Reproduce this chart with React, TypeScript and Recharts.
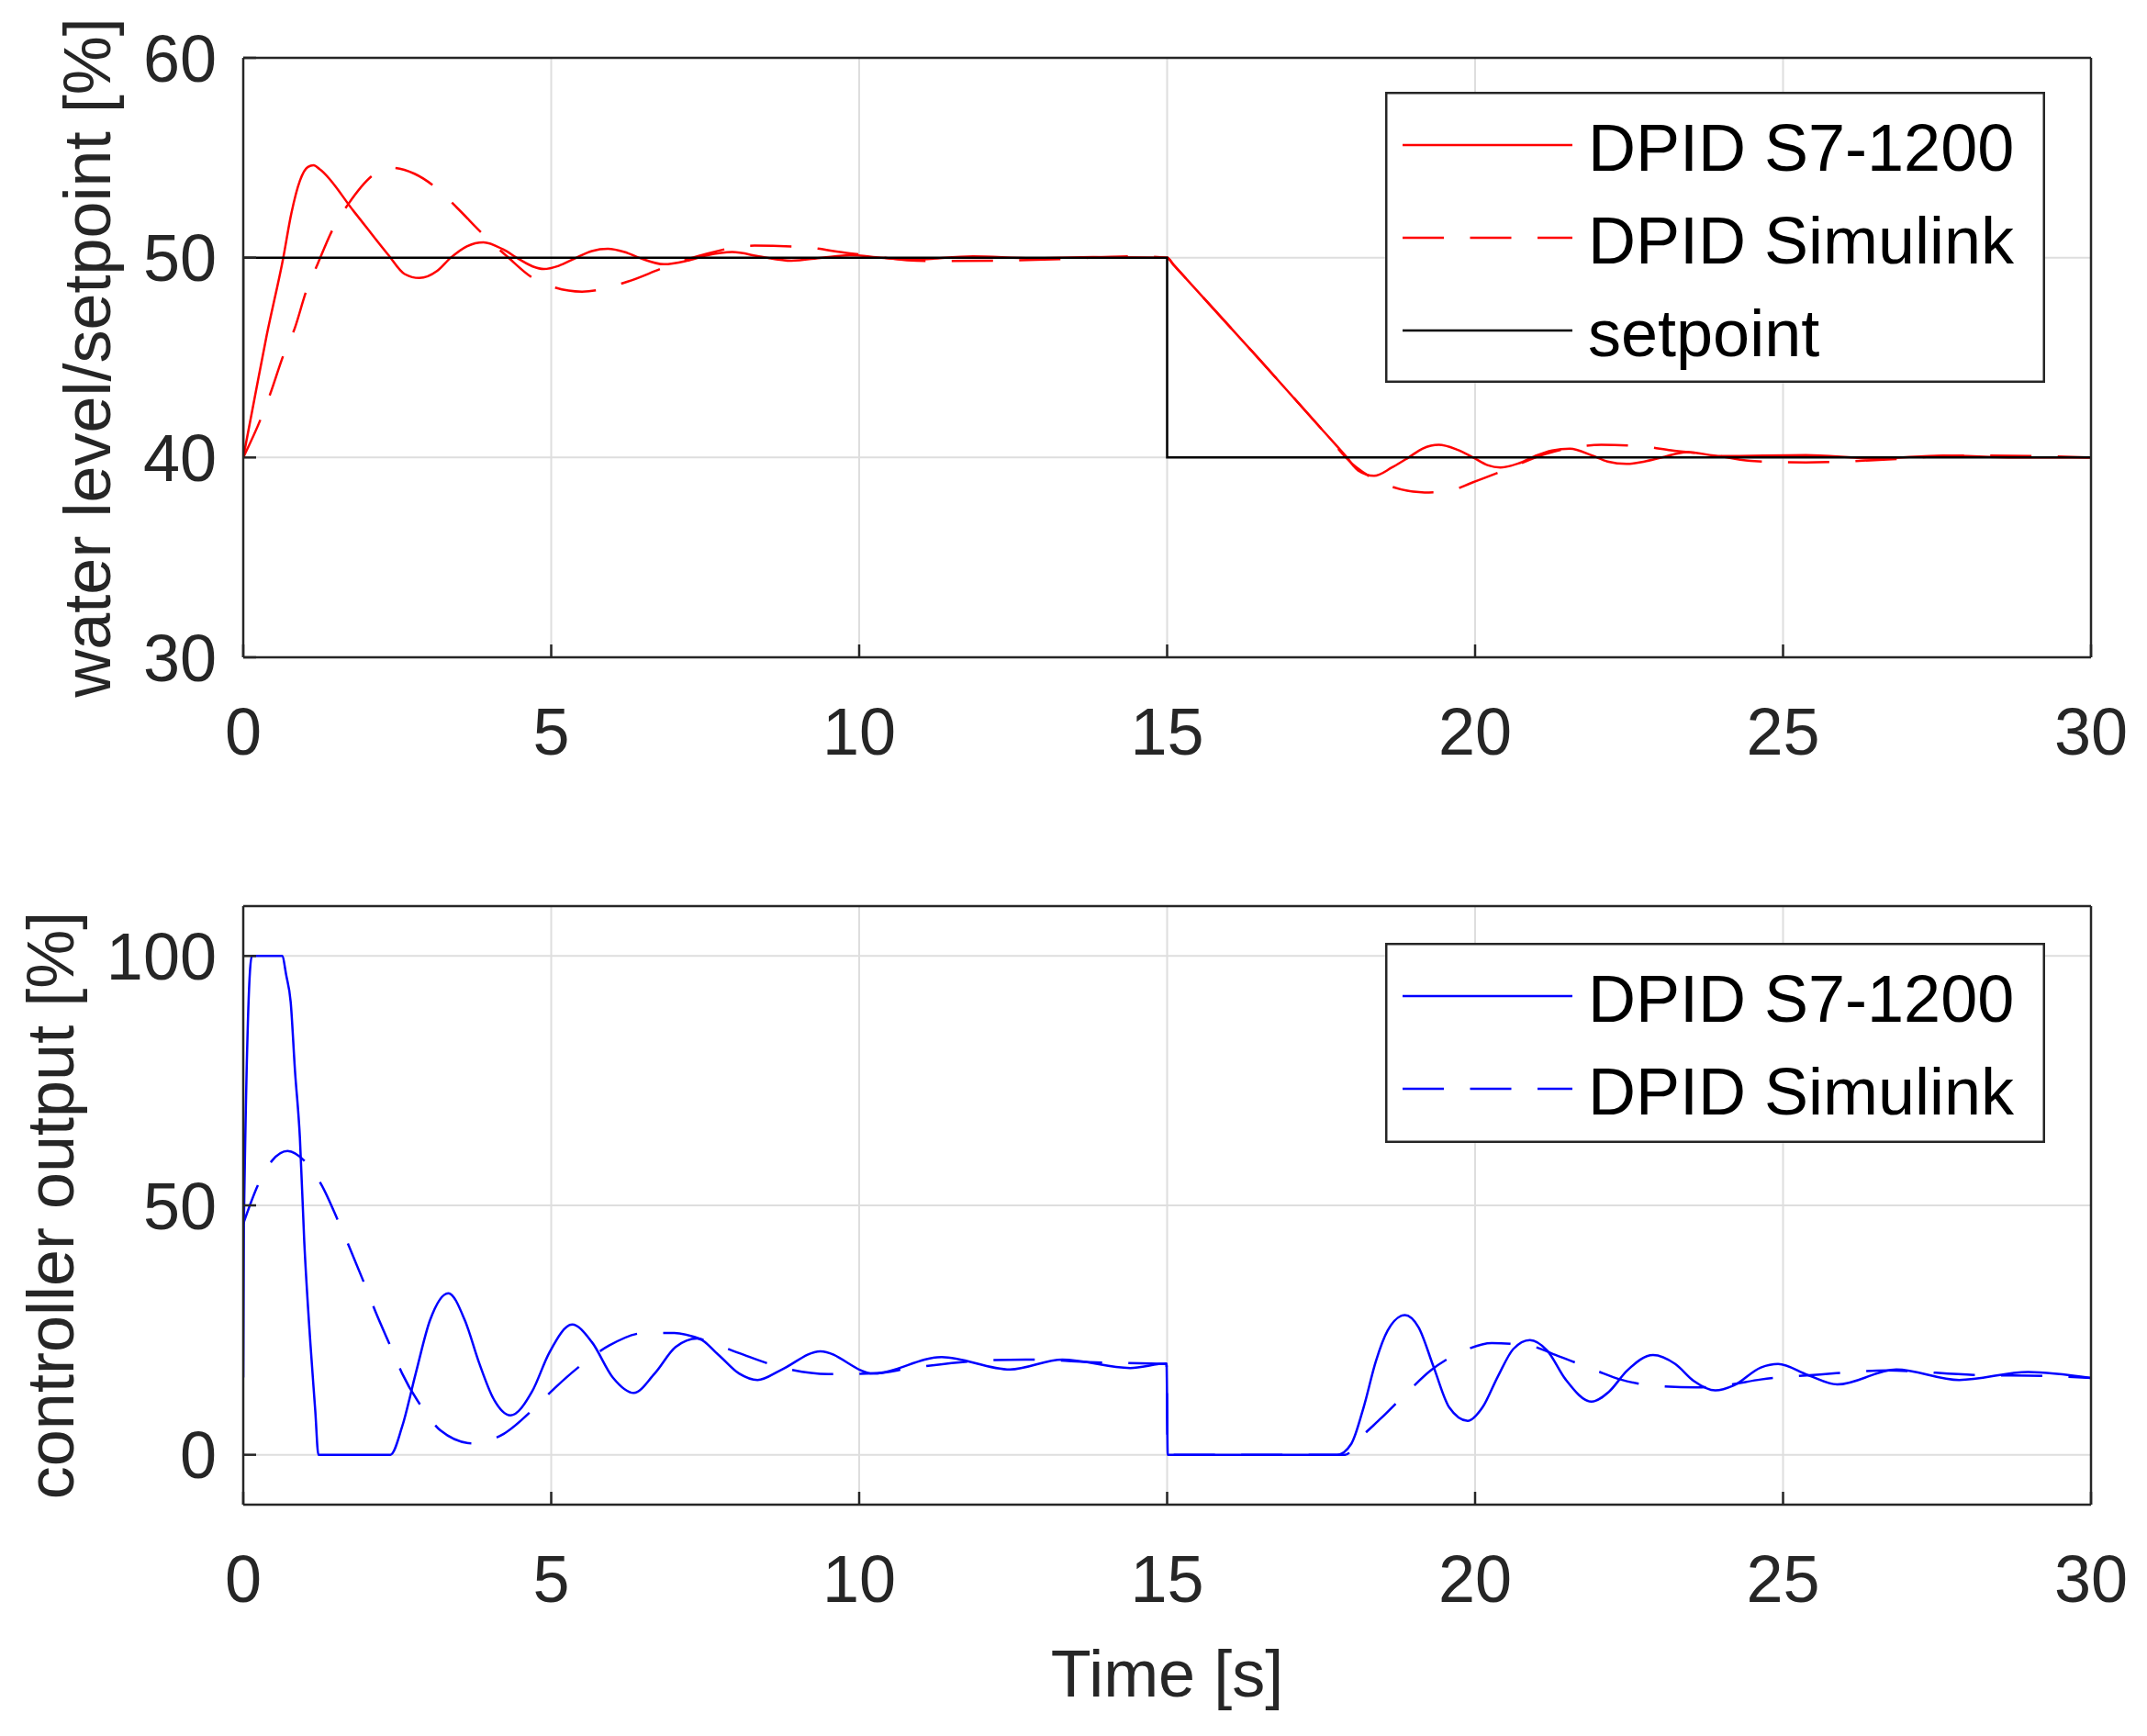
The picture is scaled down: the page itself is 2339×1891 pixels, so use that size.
import React from 'react';
import { LineChart, Line, XAxis, YAxis, CartesianGrid, Legend } from 'recharts';

// ---------- data ----------
const timeTicks = [0, 5, 10, 15, 20, 25, 30];
const levelTicks = [30, 40, 50, 60];
const outputTicks = [0, 50, 100];

// water level, DPID S7-1200 (solid red)
const levelS7: [number, number][] = [
  [0, 40], [0.18, 42.9], [0.38, 46.1], [0.65, 50], [0.78, 52.2], [0.92, 53.85], [1.05, 54.54], [1.14, 54.62],
  [1.24, 54.43], [1.8, 52.3], [2.35, 50.16], [2.62, 49.18], [2.86, 48.98], [3.15, 49.34], [3.37, 50.0],
  [3.63, 50.57], [3.9, 50.77], [4.22, 50.41], [4.48, 49.92], [4.7, 49.56], [4.88, 49.43], [5.12, 49.59],
  [5.39, 49.97], [5.66, 50.33], [5.92, 50.44], [6.19, 50.28], [6.45, 49.97], [6.83, 49.67], [7.2, 49.84],
  [7.52, 50.11], [7.94, 50.28], [8.4, 50.05], [8.9, 49.85], [9.4, 50.0], [9.85, 50.12], [10.35, 50.0],
  [10.85, 49.9], [11.85, 50.06], [12.8, 49.97], [13.8, 50.03], [15, 50.0], [15.1, 49.66], [16.5, 44.9],
  [17.5, 41.45], [17.92, 40.0], [18.1, 39.35], [18.36, 39.08], [18.65, 39.5], [18.92, 40.0], [19.15, 40.45],
  [19.41, 40.63], [19.7, 40.4], [19.97, 40.0], [20.2, 39.62], [20.41, 39.5], [20.7, 39.7], [20.97, 40.07],
  [21.25, 40.35], [21.54, 40.44], [21.9, 40.1], [22.15, 39.8], [22.46, 39.68], [22.75, 39.8], [23.03, 40.0],
  [23.44, 40.27], [24.0, 40.07], [25.37, 40.12], [26.5, 39.95], [27.6, 40.1], [28.76, 40.0], [30, 40.0],
];

// water level, DPID Simulink (dashed red)
const levelSim: [number, number][] = [
  [0, 40], [0.28, 41.9], [0.44, 43.2], [0.65, 45.1], [0.84, 46.5], [1.02, 48.3], [1.21, 49.7], [1.45, 51.4],
  [1.71, 52.7], [2.14, 54.2], [2.41, 54.5], [2.78, 54.2], [3.13, 53.5], [3.47, 52.5], [3.9, 51.15],
  [4.27, 50.1], [4.75, 48.9], [5.5, 48.3], [6.24, 48.8], [6.83, 49.5], [7.41, 50.1], [8.3, 50.6],
  [9.0, 50.55], [9.85, 50.22], [11.1, 49.83], [12.2, 49.85], [13.3, 49.93], [14.4, 50.07], [15, 50.0],
  [15.1, 49.66], [16.5, 44.9], [17.5, 41.45], [18.0, 39.7], [18.46, 38.77], [18.8, 38.4], [19.18, 38.25],
  [19.54, 38.3], [19.95, 38.74], [20.51, 39.4], [21.13, 40.16], [21.59, 40.5], [22.05, 40.63], [22.72, 40.55],
  [23.18, 40.36], [23.8, 40.16], [24.47, 39.83], [25.37, 39.75], [26.7, 39.9], [27.9, 40.1], [29.2, 40.07],
  [30, 40.0],
];

// setpoint (solid black)
const setpoint: [number, number][] = [
  [0, 40], [0, 50], [15, 50], [15, 40], [30, 40],
];

// controller output, DPID S7-1200 (solid blue)
const outputS7: [number, number][] = [
  [0, 15.5], [0.01, 46], [0.14, 100], [0.63, 100], [0.7, 96], [0.77, 90.8], [0.84, 77], [0.92, 63.5],
  [0.99, 42.9], [1.09, 22.4], [1.17, 8.7], [1.22, 0], [2.39, 0], [2.58, 5.65], [2.8, 16.3], [3.03, 26.9],
  [3.33, 32.4], [3.6, 26.9], [3.83, 18.4], [4.06, 11.3], [4.34, 7.9], [4.69, 12.7], [4.97, 20.5],
  [5.34, 26.1], [5.66, 22.6], [6.0, 15.5], [6.34, 12.4], [6.68, 16.3], [7.02, 21.6], [7.37, 23.3],
  [7.71, 20.1], [8.05, 16.3], [8.35, 15.0], [8.73, 17.0], [9.37, 20.75], [10.23, 16.3], [11.34, 19.6],
  [12.45, 17.1], [13.3, 19.1], [14.4, 17.4], [14.99, 18.3], [15.01, 0], [17.76, 0], [17.99, 2.2],
  [18.19, 9.5], [18.39, 18.8], [18.58, 24.9], [18.86, 28], [19.08, 25.6], [19.33, 17.5], [19.58, 9.5],
  [19.88, 6.8], [20.12, 9.5], [20.37, 15.7], [20.62, 21.2], [20.89, 23], [21.17, 20.9], [21.47, 15.1],
  [21.89, 10.65], [22.17, 12.6], [22.47, 16.9], [22.89, 20.0], [23.25, 18.2], [23.55, 14.8], [23.9, 12.9],
  [24.2, 13.9], [24.64, 17.5], [24.92, 18.2], [25.4, 16], [25.88, 14.1], [26.84, 17.1], [27.86, 15.0],
  [28.98, 16.6], [30, 15.4],
];

// controller output, DPID Simulink (dashed blue)
const outputSim: [number, number][] = [
  [0, 46.3], [0.24, 54.1], [0.47, 59], [0.72, 60.9], [1.01, 58.7], [1.27, 54.1], [1.55, 46.6], [1.72, 41.7],
  [1.98, 33.9], [2.15, 28.6], [2.41, 21.2], [2.58, 16.3], [2.92, 9.2], [3.2, 4.9], [3.72, 2.3], [4.23, 4.2],
  [4.74, 9.5], [5.06, 13.4], [5.54, 18.5], [5.94, 21.9], [6.51, 24.4], [7.0, 24.4], [7.59, 22.5],
  [8.05, 20.4], [8.68, 17.7], [9.5, 16.2], [10.23, 16.3], [10.85, 17.4], [11.84, 18.75], [12.7, 19.1],
  [13.93, 18.5], [14.99, 18.2], [15.01, 0], [17.89, 0], [18.14, 3.4], [18.48, 7.4], [18.93, 12.9],
  [19.28, 16.9], [19.83, 20.9], [20.27, 22.4], [20.87, 21.9], [21.37, 19.7], [21.96, 16.9], [22.36, 15.1],
  [23.06, 13.7], [23.6, 13.5], [24.1, 14], [24.64, 15.1], [25.6, 16.1], [26.7, 16.9], [28.1, 16],
  [29.3, 15.8], [30, 15.4],
];

// ---------- styling ----------
const FONT = '"Liberation Sans", Arial, Helvetica, sans-serif';
const AXIS = '#262626';
const GRID = '#dedede';
const DASH = '45 28.5';
const LW = 2.5;

type Series = {
  name: string;
  pts: [number, number][];
  color: string;
  dash?: string;
  curve: 'monotone' | 'linear';
};

const topSeries: Series[] = [
  { name: 'DPID S7-1200', pts: levelS7, color: '#ff0000', curve: 'monotone' },
  { name: 'DPID Simulink', pts: levelSim, color: '#ff0000', dash: DASH, curve: 'monotone' },
  { name: 'setpoint', pts: setpoint, color: '#000000', curve: 'linear' },
];

const bottomSeries: Series[] = [
  { name: 'DPID S7-1200', pts: outputS7, color: '#0000ff', curve: 'monotone' },
  { name: 'DPID Simulink', pts: outputSim, color: '#0000ff', dash: DASH, curve: 'monotone' },
];

const toRows = (pts: [number, number][]) => pts.map(([t, v]) => ({ t, v }));

function LegendBox({ items, height }: { items: Series[]; height: number }) {
  const W = 719;
  return (
    <svg width={W} height={height} style={{ display: 'block' }}>
      <rect x={1.25} y={1.25} width={W - 2.5} height={height - 2.5} fill="#ffffff" stroke={AXIS} strokeWidth={2.5} />
      {items.map((s, i) => {
        const cy = 58 + i * 101;
        return (
          <g key={s.name}>
            <line x1={19} x2={204} y1={cy} y2={cy} stroke={s.color} strokeWidth={LW} strokeDasharray={s.dash} />
            <text x={221} y={cy + 28} fontSize={72} fontFamily={FONT} fill="#000000">{s.name}</text>
          </g>
        );
      })}
    </svg>
  );
}

type PanelProps = {
  series: Series[];
  top: number;
  height: number;
  margin: { top: number; right: number; bottom: number; left: number };
  yDomain: [number, number];
  yTicks: number[];
  yLabel: string;
  yLabelOffset: number;
  xLabel?: string;
  xLabelOffset?: number;
  legendTop: number;
  legendHeight: number;
};

function Panel(p: PanelProps) {
  const tickStyle = { fontSize: 72, fill: AXIS, fontFamily: FONT };
  const axisLine = { stroke: AXIS, strokeWidth: LW };
  const tickLine = { stroke: AXIS, strokeWidth: LW };
  const plotLeft = p.margin.left + 1;
  const plotTop = p.margin.top + 1;
  const plotH = p.height - p.margin.top - p.margin.bottom - 2;
  return (
    <div style={{ position: 'absolute', left: 0, top: p.top }}>
      <LineChart width={2339} height={p.height} margin={p.margin}>
        <CartesianGrid stroke={GRID} strokeWidth={2} />
        <XAxis
          dataKey="t"
          type="number"
          domain={[0, 30]}
          ticks={timeTicks}
          allowDataOverflow
          height={1}
          tick={tickStyle}
          tickSize={-14}
          tickMargin={69}
          axisLine={axisLine}
          tickLine={tickLine}
          label={
            p.xLabel
              ? {
                  content: (lp: any) => {
                    const vb = lp && lp.viewBox ? lp.viewBox : { x: plotLeft, y: plotTop + plotH, width: 2013 };
                    return (
                      <text
                        x={vb.x + vb.width / 2}
                        y={vb.y + (p.xLabelOffset || 0)}
                        textAnchor="middle"
                        fontSize={72}
                        fontFamily={FONT}
                        fill={AXIS}
                      >
                        {p.xLabel}
                      </text>
                    );
                  },
                }
              : undefined
          }
        />
        <XAxis
          xAxisId="top"
          orientation="top"
          type="number"
          domain={[0, 30]}
          ticks={timeTicks}
          allowDataOverflow
          height={1}
          tick={false}
          tickSize={-14}
          axisLine={axisLine}
          tickLine={tickLine}
        />
        <YAxis
          type="number"
          domain={p.yDomain}
          ticks={p.yTicks}
          allowDataOverflow
          width={1}
          tick={tickStyle}
          tickSize={-14}
          tickMargin={43}
          axisLine={axisLine}
          tickLine={tickLine}
          label={{
            content: (lp: any) => {
              const vb = lp && lp.viewBox ? lp.viewBox : { x: plotLeft - 1, y: plotTop, height: plotH };
              const cx = vb.x - p.yLabelOffset;
              const cy = vb.y + vb.height / 2;
              return (
                <text
                  x={cx}
                  y={cy}
                  transform={`rotate(-90 ${cx} ${cy})`}
                  textAnchor="middle"
                  fontSize={72}
                  fontFamily={FONT}
                  fill={AXIS}
                >
                  {p.yLabel}
                </text>
              );
            },
          }}
        />
        <YAxis
          yAxisId="right"
          orientation="right"
          type="number"
          domain={p.yDomain}
          ticks={p.yTicks}
          allowDataOverflow
          width={1}
          tick={false}
          tickSize={-14}
          axisLine={axisLine}
          tickLine={tickLine}
        />
        {p.series.map((s) => (
          <Line
            key={s.name}
            data={toRows(s.pts)}
            dataKey="v"
            name={s.name}
            type={s.curve}
            stroke={s.color}
            strokeWidth={LW}
            strokeDasharray={s.dash}
            dot={false}
            activeDot={false}
            isAnimationActive={false}
          />
        ))}
        <Legend
          layout="vertical"
          align="center"
          verticalAlign="middle"
          wrapperStyle={{ left: 1509, top: p.legendTop, right: 'auto', bottom: 'auto', width: 719, height: p.legendHeight }}
          content={() => <LegendBox items={p.series} height={p.legendHeight} />}
        />
      </LineChart>
    </div>
  );
}

export default function App() {
  return (
    <div style={{ position: 'absolute', left: 0, top: 0, width: 2339, height: 1891, background: '#ffffff', overflow: 'hidden' }}>
      <Panel
        series={topSeries}
        top={0}
        height={900}
        margin={{ top: 62, right: 60, bottom: 183, left: 264 }}
        yDomain={[30, 60]}
        yTicks={levelTicks}
        yLabel="water level/setpoint [%]"
        yLabelOffset={144}
        legendTop={100}
        legendHeight={317}
      />
      <Panel
        series={bottomSeries}
        top={920}
        height={971}
        margin={{ top: 66, right: 60, bottom: 251, left: 264 }}
        yDomain={[-10, 110]}
        yTicks={outputTicks}
        yLabel="controller output [%]"
        yLabelOffset={184}
        xLabel="Time [s]"
        xLabelOffset={209}
        legendTop={107}
        legendHeight={218}
      />
    </div>
  );
}
